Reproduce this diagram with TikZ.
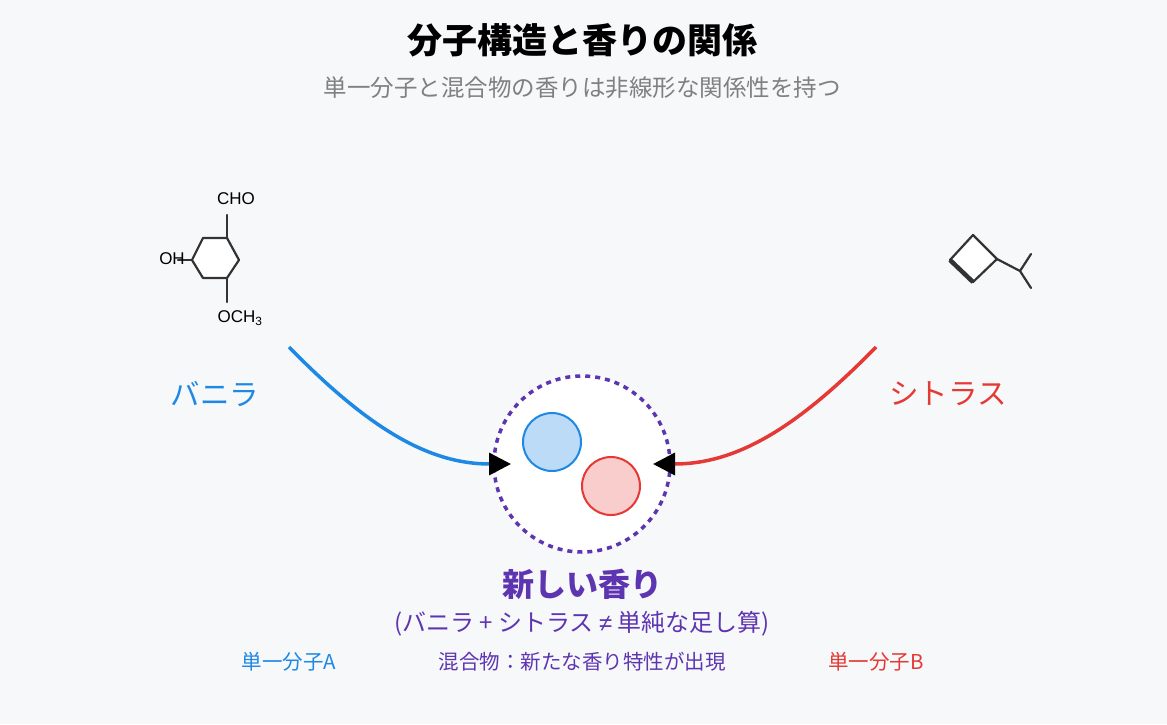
\documentclass[tikz,border=0pt]{standalone}
\usepackage{fontspec}
\setmainfont{Noto Sans CJK JP}
\newfontfamily\latinf{Liberation Sans}
\usetikzlibrary{arrows.meta}
\definecolor{bg}{HTML}{F7F8FA}
\definecolor{vblue}{HTML}{1E88E5}
\definecolor{cred}{HTML}{E53935}
\definecolor{purp}{HTML}{5E35B1}
\definecolor{mol}{HTML}{333333}
\tikzset{bond/.style={mol,line width=2.2pt,line cap=round,line join=round},
 flow/.style={line width=3.5pt,-{Triangle[length=22pt,width=22pt,color=black]}},
 lbl/.style={inner sep=0pt,anchor=center}}
\begin{document}
\begin{tikzpicture}[x=1pt,y=-1pt]
\fill[bg] (0,0) rectangle (1167,724);
\useasboundingbox (0,0) rectangle (1167,724);
\node[lbl,font=\fontsize{35}{38}\selectfont\bfseries] (title) at (582,40) {分子構造と香りの関係};
\node[lbl,font=\fontsize{23.5}{26}\selectfont,text=gray] (sub) at (582,88) {単一分子と混合物の香りは非線形な関係性を持つ};
% vanillin
\draw[bond,fill=white] (203,238)--(227,238)--(239,260)--(227,278)--(203,278)--(192,260)--cycle;
\draw[bond] (227,238)--(227,215);
\draw[bond] (227,278)--(227,302);
\draw[bond] (192,260)--(178,260);
\node[lbl,font=\latinf\fontsize{17}{20}\selectfont] (cho) at (236,199) {CHO};
\node[lbl,font=\latinf\fontsize{17}{20}\selectfont] (oh) at (172,259) {OH};
\node[lbl,font=\latinf\fontsize{17}{20}\selectfont] (och) at (240,318) {OCH\textsubscript{3}};
% citrus molecule
\draw[bond,fill=white] (973,235)--(997,259)--(973,282)--(950,260)--cycle;
\draw[mol,line width=4.5pt] (950,260)--(973,282);
\draw[bond] (997,259)--(1020,271)--(1031,254);
\draw[bond] (1020,271)--(1031,288);
\node[lbl,font=\fontsize{29.5}{32}\selectfont,text=vblue] (van) at (215,394) {バニラ};
\node[lbl,font=\fontsize{29.5}{32}\selectfont,text=cred] (cit) at (948,394) {シトラス};
% mixture
\node[circle,draw=purp,fill=white,line width=3.5pt,dash pattern=on 5pt off 5pt,minimum size=176pt,inner sep=0pt] (mix) at (582,464) {};
\node[circle,draw=vblue,fill=vblue!30,line width=2pt,minimum size=58pt,inner sep=0pt] (ma) at (552,442) {};
\node[circle,draw=cred,fill=cred!25,line width=2pt,minimum size=58pt,inner sep=0pt] (mb) at (611,486) {};
\coordinate (s1) at (289,347);
\coordinate (s2) at (876,347);
\coordinate (e1) at (511,464);
\coordinate (e2) at (653,464);
\draw[flow,vblue] (s1) .. controls (370,430) and (430,464) .. (e1);
\draw[flow,cred] (s2) .. controls (795,430) and (735,464) .. (e2);
\node[lbl,font=\fontsize{32}{35}\selectfont\bfseries,text=purp] (new) at (582,584) {新しい香り};
\node[lbl,font=\fontsize{24}{27}\selectfont,text=purp] (eq) at (582,624) {(バニラ + シトラス {\latinf≠} 単純な足し算)};
\node[lbl,font=\fontsize{20.5}{23}\selectfont,text=vblue] (la) at (289,662) {単一分子A};
\node[lbl,font=\fontsize{20.5}{23}\selectfont,text=purp] (lm) at (582,662) {混合物：新たな香り特性が出現};
\node[lbl,font=\fontsize{20.5}{23}\selectfont,text=cred] (lb) at (876,662) {単一分子B};
\end{tikzpicture}
\end{document}
